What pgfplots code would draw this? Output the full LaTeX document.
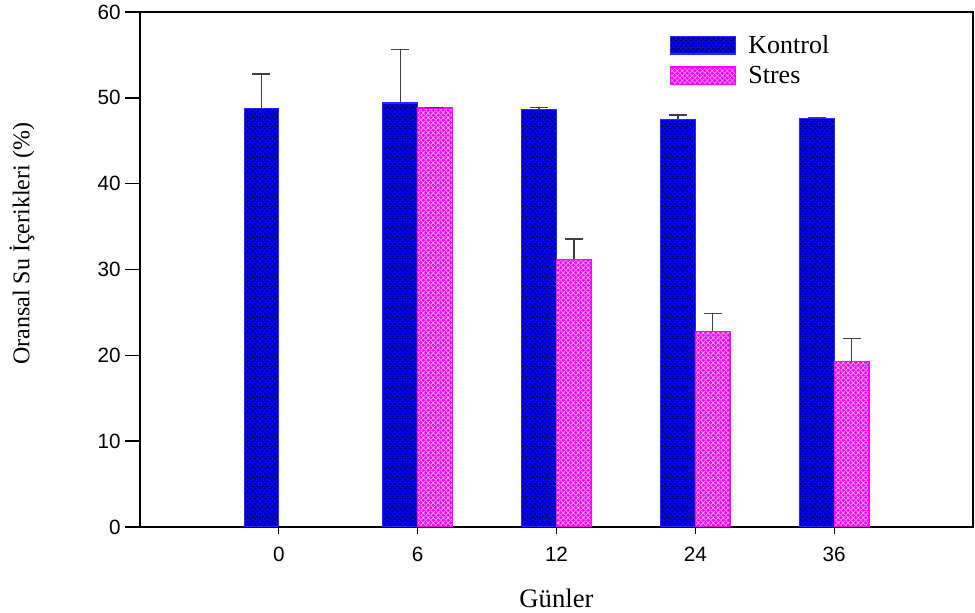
\documentclass[border=0pt]{standalone}
\usepackage{fontspec}
\setmainfont{Liberation Serif}
\setsansfont{Liberation Sans}
\usepackage{pgfplots}
\usepackage{pgfplotstable}
\pgfplotsset{compat=1.18}
\usetikzlibrary{patterns}
\definecolor{mag}{RGB}{255,0,255}
\definecolor{kblue}{RGB}{0,0,255}

\pgfdeclarepatternformonly{kdots}{\pgfqpoint{0pt}{0pt}}{\pgfqpoint{3.9pt}{3.9pt}}{\pgfqpoint{3.9pt}{3.9pt}}{%
  \pgfpathcircle{\pgfqpoint{0.975pt}{0.975pt}}{0.85pt}%
  \pgfpathcircle{\pgfqpoint{2.925pt}{2.925pt}}{0.85pt}%
  \pgfusepath{fill}}
\pgfdeclarepatternformonly{scross}{\pgfqpoint{0pt}{0pt}}{\pgfqpoint{3.9pt}{3.9pt}}{\pgfqpoint{3.9pt}{3.9pt}}{%
  \pgfsetlinewidth{0.35pt}%
  \pgfpathmoveto{\pgfqpoint{0pt}{0pt}}\pgfpathlineto{\pgfqpoint{3.9pt}{3.9pt}}%
  \pgfpathmoveto{\pgfqpoint{0pt}{3.9pt}}\pgfpathlineto{\pgfqpoint{3.9pt}{0pt}}%
  \pgfusepath{stroke}}

\pgfplotstableread{
x y e
0 48.8 3.96
1 49.4 6.25
2 48.6 0.25
3 47.5 0.50
4 47.6 0.10
}\kontrol
\pgfplotstableread{
x y e
1 48.8 0.10
2 31.2 2.33
3 22.8 2.10
4 19.3 2.68
}\stres

\begin{document}
\begin{tikzpicture}
\begin{axis}[
  name=ax,
  scale only axis,
  width=624.75pt, height=386.25pt,
  xmin=-1, xmax=5, ymin=0, ymax=60,
  ytick={0,10,...,60},
  xtick=\empty,
  extra x ticks={0,1,2,3,4},
  extra x tick labels={0,6,12,24,36},
  extra x tick style={major tick length=5.25pt, xticklabel style={yshift=-6.5pt}},
  xtick pos=bottom, ytick pos=left,
  tick align=outside,
  major tick length=11pt,
  axis line style={line width=1.1pt},
  tick style={black, line width=1pt},
  /pgf/number format/assume math mode=true,
  tick label style={font=\fontsize{15.5}{18}\selectfont\sffamily},
  xlabel={Günler},
  ylabel={Oransal Su İçerikleri (\%)},
  xlabel style={at={(axis description cs:0.5,-0.138)}, anchor=center, font=\fontsize{20}{22}\selectfont},
  ylabel style={at={(axis description cs:-0.1416,0.55)}, anchor=center, rotate=0, font=\fontsize{18}{20}\selectfont},
  ybar, bar width=0.25,
  legend style={at={(0.636,0.963)}, anchor=north west, draw=none, fill=none,
    font=\fontsize{19.5}{22}\selectfont, row sep=2pt, inner sep=0pt,
    nodes={inner xsep=9pt, inner ysep=3pt}},
  legend cell align=left,
  legend image code/.code={\draw[#1] (0pt,-6.5pt) rectangle (48.75pt,6.5pt);},
  error bars/error bar style={black!75, line width=1.1pt},
  error bars/error mark options={rotate=90, mark size=6.75pt, line width=1.1pt, black!75},
]
\addplot[bar shift=-0.125, fill=kblue, draw=kblue!85!white, line width=0.8pt,
  postaction={pattern=kdots, pattern color=black},
  error bars/.cd, y dir=plus, y explicit]
  table[x=x, y=y, y error=e]{\kontrol};
\addlegendentry{Kontrol}
\addplot[bar shift=0.125, fill=mag, draw=mag, line width=1pt,
  postaction={pattern=scross, pattern color=gray!35},
  error bars/.cd, y dir=plus, y explicit]
  table[x=x, y=y, y error=e]{\stres};
\addlegendentry{Stres}
\end{axis}
\pgfresetboundingbox
\path[use as bounding box] (ax.south west) ++(-105pt,-64.5pt) rectangle ++(731.25pt,459.75pt);
\end{tikzpicture}
\end{document}
